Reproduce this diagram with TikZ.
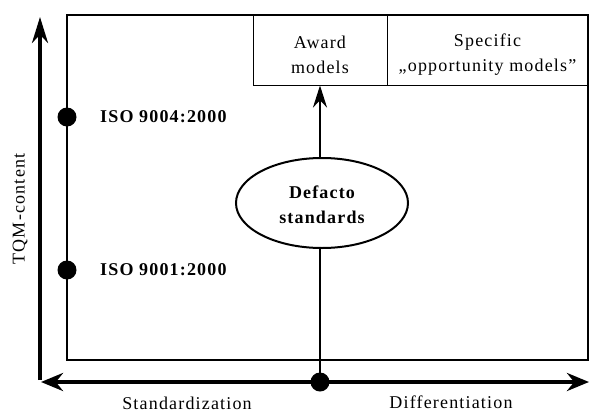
\documentclass[tikz,border=0pt]{standalone}
\usepackage{fontspec}
\setmainfont{Liberation Serif}[LetterSpace=6.5]
\usetikzlibrary{arrows.meta,shapes.geometric}
\begin{document}
\begin{tikzpicture}[x=1pt,y=-1pt,
  txt/.style={font=\fontsize{18}{20}\selectfont, inner sep=0pt},
  btxt/.style={font=\fontsize{18}{20}\selectfont\bfseries, inner sep=0pt},
  boxnode/.style={draw, line width=1pt, minimum height=70pt, inner sep=0pt},
  boxtxt/.style={inner sep=0pt, align=center, font=\fontsize{18}{25}\selectfont},
  dot/.style={circle, fill=black, inner sep=0pt, minimum size=19pt},
  axis/.style={line width=4pt}
]
\useasboundingbox (0,0) rectangle (590,413);
% frame
\draw[line width=2pt] (67,15) rectangle (588,360);
% boxes
\node[boxnode, minimum width=134pt] (award) at (320,50) {};
\node[boxnode, minimum width=201pt] (spec) at (487.5,50) {};
\node[boxtxt] (awardt) at ([yshift=-5pt]award.center) {Award\\models};
\node[boxtxt] (spect) at ([yshift=-5pt]spec.center) {Specific\\„opportunity models”};
% ellipse
\node[ellipse, draw, line width=2pt, minimum width=172pt, minimum height=90pt] (def) at (322,203) {};
\node[boxtxt, font=\fontsize{18}{25}\selectfont\bfseries] (deft) at ([yshift=-2pt]def.center) {Defacto\\standards};
% axes
\coordinate (o) at (40,382);
\coordinate (ytop) at (40,17);
\coordinate (xl) at (41,382);
\coordinate (xr) at (589,382);
\draw[axis, -{Stealth[length=26pt,width=16pt]}] ([yshift=2pt]o) -- (ytop);
\draw[axis, {Stealth[length=22pt,width=18pt]}-{Stealth[length=22pt,width=18pt]}] (xl) -- (xr);
% dots
\node[dot] (d1) at (67,117) {};
\node[dot] (d2) at (67,270) {};
\node[dot] (d0) at (320,382) {};
% connectors
\draw[line width=2pt, -{Stealth[length=22pt,width=14pt]}] (def.north -| d0) -- (award.south -| d0);
\draw[line width=2pt] (def.south -| d0) -- (d0.center);
% labels
\node[btxt, anchor=west] (l1) at (100,117) {ISO 9004:2000};
\node[btxt, anchor=west] (l2) at (100,270) {ISO 9001:2000};
\node[txt, rotate=90] (tqm) at (20,209) {TQM-content};
\node[txt] (st) at (187,403) {Standardization};
\node[txt] (df) at (451,402) {Differentiation};
\end{tikzpicture}
\end{document}
